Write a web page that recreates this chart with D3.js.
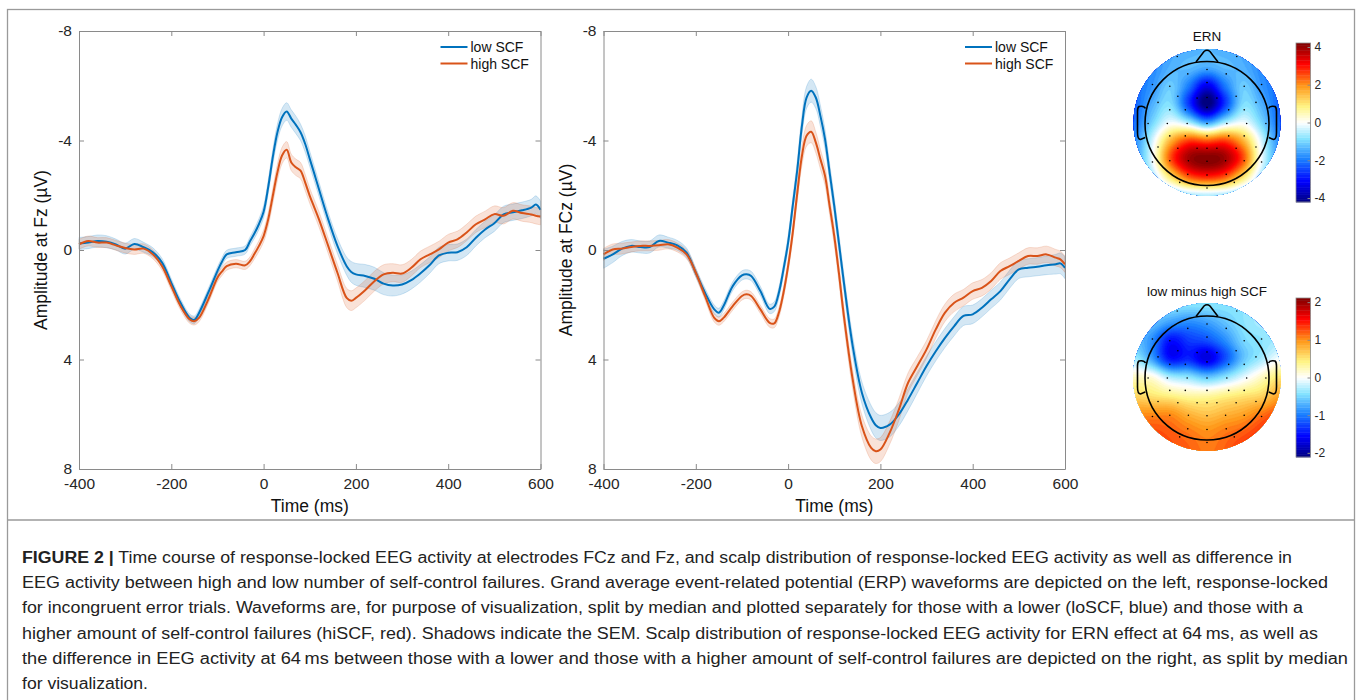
<!DOCTYPE html>
<html>
<head>
<meta charset="utf-8">
<script src="https://cdn.jsdelivr.net/npm/d3@7"></script>
<style>
  body { margin:0; background:#fff; }
  svg { display:block; font-family:"Liberation Sans", Arial, Helvetica, sans-serif; }
</style>
</head>
<body>
<div id="fig"></div>
<script>
// ---- data ----
var times = [-400,-380,-360,-340,-320,-300,-280,-260,-240,-220,-200,-180,-160,-150,-140,-120,-100,-90,-80,-60,-40,-30,-20,-10,0,10,20,30,40,50,60,70,80,90,100,110,120,140,160,180,190,200,220,240,260,280,300,320,340,360,380,400,420,440,460,480,500,520,540,560,580,590,600];

// Fz (left panel)
var fzLow = [-0.24,-0.27,-0.33,-0.3,-0.2,-0.05,-0.22,-0.1,0.08,0.46,1.2,1.93,2.48,2.55,2.3,1.56,0.77,0.42,0.16,0.08,0.0,-0.3,-0.6,-0.95,-1.4,-2.3,-3.4,-4.3,-4.85,-5.06,-4.8,-4.57,-4.3,-3.88,-3.33,-2.78,-2.22,-1.12,-0.15,0.59,0.8,0.89,0.95,1.05,1.23,1.3,1.26,1.1,0.85,0.55,0.2,0.1,0.08,-0.1,-0.45,-0.75,-0.98,-1.3,-1.38,-1.45,-1.55,-1.66,-1.47];
var fzHigh = [-0.21,-0.33,-0.27,-0.27,-0.17,-0.07,-0.02,-0.05,0.16,0.59,1.32,2.05,2.54,2.6,2.48,1.81,1.01,0.78,0.59,0.5,0.56,0.42,0.15,-0.15,-0.51,-1.12,-1.98,-2.84,-3.45,-3.66,-3.2,-3.02,-2.9,-2.47,-1.98,-1.55,-1.12,-0.15,0.83,1.75,1.85,1.75,1.47,1.14,0.89,0.83,0.86,0.65,0.34,0.16,-0.02,-0.27,-0.39,-0.64,-0.94,-1.12,-1.31,-1.25,-1.43,-1.35,-1.3,-1.25,-1.22];
var fzLowSem = [0.22,0.22,0.22,0.22,0.2,0.2,0.2,0.18,0.16,0.15,0.15,0.14,0.14,0.14,0.14,0.15,0.15,0.15,0.15,0.15,0.15,0.16,0.18,0.2,0.22,0.25,0.28,0.3,0.32,0.32,0.32,0.32,0.3,0.3,0.28,0.27,0.26,0.25,0.28,0.33,0.38,0.4,0.42,0.42,0.4,0.38,0.35,0.33,0.32,0.3,0.3,0.3,0.3,0.3,0.3,0.3,0.3,0.3,0.3,0.3,0.3,0.32,0.32];
var fzHighSem = [0.18,0.18,0.18,0.18,0.18,0.18,0.18,0.17,0.16,0.15,0.15,0.14,0.14,0.14,0.14,0.15,0.15,0.15,0.15,0.15,0.15,0.16,0.18,0.2,0.22,0.25,0.28,0.3,0.3,0.3,0.3,0.3,0.3,0.3,0.28,0.28,0.28,0.28,0.3,0.35,0.36,0.36,0.36,0.36,0.35,0.33,0.32,0.3,0.3,0.3,0.3,0.3,0.3,0.3,0.3,0.3,0.3,0.3,0.3,0.3,0.3,0.3,0.3];

// FCz (right panel)
var fczLow = [0.32,0.16,-0.05,-0.15,-0.11,-0.11,-0.33,-0.27,-0.17,0.1,0.83,1.56,2.17,2.29,2.05,1.32,0.93,0.89,0.95,1.5,2.15,2.07,1.56,0.71,-0.27,-1.61,-2.95,-4.54,-5.57,-5.82,-5.57,-4.9,-4.05,-2.83,-1.61,-0.27,1.07,3.51,5.22,6.13,6.4,6.5,6.38,6.01,5.46,4.85,4.24,3.7,3.21,2.78,2.41,2.35,2.11,1.8,1.5,1.07,0.71,0.65,0.61,0.56,0.52,0.49,0.65];
var fczHigh = [0.16,-0.02,-0.05,-0.11,-0.15,-0.15,-0.17,-0.21,-0.09,0.16,0.83,1.68,2.48,2.6,2.48,2.05,1.68,1.62,1.68,2.17,2.66,2.68,2.29,1.56,0.59,-0.63,-2.1,-3.44,-4.17,-4.32,-3.93,-3.32,-2.71,-1.61,-0.51,0.83,2.29,4.73,6.44,7.23,7.35,7.29,6.68,5.83,4.85,4.24,3.63,2.9,2.29,1.93,1.74,1.5,1.38,1.13,0.77,0.59,0.4,0.22,0.22,0.16,0.28,0.34,0.52];
var fczLowSem = [0.35,0.3,0.26,0.23,0.22,0.22,0.22,0.2,0.18,0.17,0.16,0.16,0.16,0.16,0.16,0.16,0.17,0.17,0.17,0.17,0.17,0.18,0.2,0.22,0.25,0.28,0.32,0.36,0.4,0.42,0.4,0.38,0.35,0.33,0.32,0.32,0.32,0.35,0.4,0.45,0.46,0.46,0.45,0.42,0.4,0.38,0.36,0.35,0.35,0.35,0.35,0.34,0.33,0.33,0.33,0.33,0.33,0.33,0.33,0.34,0.36,0.38,0.4];
var fczHighSem = [0.22,0.2,0.2,0.18,0.18,0.18,0.18,0.17,0.16,0.16,0.15,0.15,0.15,0.15,0.15,0.15,0.15,0.15,0.15,0.15,0.16,0.16,0.18,0.2,0.22,0.26,0.3,0.35,0.38,0.4,0.38,0.36,0.34,0.32,0.32,0.32,0.33,0.35,0.4,0.44,0.45,0.44,0.42,0.4,0.36,0.34,0.32,0.32,0.32,0.32,0.3,0.3,0.3,0.3,0.3,0.3,0.3,0.3,0.3,0.3,0.3,0.3,0.3];

var xTicks = [-400,-200,0,200,400,600];
var yTicks = [-8,-4,0,4,8];
var seriesNames = ["low SCF","high SCF"];

// scalp maps: 9x9 grid over the disc (rows top->bottom, cols left->right)
var ernGrid = [
  [-1.6,-1.6,-1.5,-1.4,-1.3,-1.4,-1.5,-1.6,-1.6],
  [-1.9,-1.8,-1.4,-1.3,-1.5,-1.3,-1.4,-1.8,-1.9],
  [-2.1,-1.7,-1.1,-2.0,-3.3,-2.0,-1.1,-1.7,-2.1],
  [-2.2,-1.4,-0.9,-2.6,-4.3,-2.6,-0.9,-1.4,-2.2],
  [-2.1,-1.0,-0.1,-0.6,-1.6,-0.6,-0.1,-1.0,-2.1],
  [-1.8,-0.3,1.6,2.6,2.4,2.6,1.6,-0.3,-1.8],
  [-1.6,-0.1,2.5,3.9,4.2,3.9,2.5,-0.1,-1.6],
  [-1.3,-0.6,1.0,2.4,2.8,2.4,1.0,-0.6,-1.3],
  [-1.1,-1.1,-1.0,-0.6,-0.5,-0.6,-1.0,-1.1,-1.1]
];
var diffGrid = [
  [-0.5,-0.5,-0.4,-0.4,-0.4,-0.4,-0.4,-0.4,-0.4],
  [-0.6,-0.6,-0.8,-0.9,-0.8,-0.6,-0.4,-0.3,-0.3],
  [-0.6,-0.9,-1.5,-1.3,-1.2,-0.9,-0.5,-0.4,-0.3],
  [-0.3,-0.8,-1.5,-1.4,-1.7,-1.2,-0.6,-0.3,0.0],
  [0.2,0.1,-0.3,-0.4,-0.6,-0.4,-0.1,0.2,0.5],
  [0.6,0.5,0.4,0.3,0.3,0.4,0.5,0.6,0.9],
  [1.0,1.0,1.0,0.8,0.7,0.8,0.9,1.1,1.3],
  [1.3,1.3,1.2,1.1,1.0,1.1,1.2,1.4,1.7],
  [1.5,1.5,1.3,1.2,1.1,1.2,1.4,1.6,1.8]
];
var ernTicks = [4,2,0,-2,-4];
var diffTicks = [2,1,0,-1,-2];

// electrode positions in head radius units
var electrodes = [
  [-0.48,-1.08],[0.48,-1.08],
  [-0.31,-0.8],[0,-0.87],[0.31,-0.8],
  [-0.88,-0.63],[-0.6,-0.6],[0,-0.66],[0.6,-0.6],[0.88,-0.63],
  [-0.79,-0.34],[-0.47,-0.44],[-0.16,-0.41],[0,-0.42],[0.16,-0.41],[0.47,-0.44],[0.79,-0.34],
  [-0.6,-0.22],[-0.35,-0.22],[0,-0.26],[0.35,-0.22],[0.6,-0.22],
  [-0.95,0],[-0.64,0],[-0.32,0],[0,0],[0.32,0],[0.64,0],[0.95,0],
  [-0.6,0.2],[-0.35,0.2],[0,0.2],[0.35,0.2],[0.6,0.2],
  [-0.79,0.38],[-0.47,0.4],[-0.16,0.4],[0,0.4],[0.16,0.4],[0.47,0.4],[0.79,0.38],
  [-0.88,0.62],[-0.6,0.6],[-0.3,0.6],[0,0.61],[0.3,0.6],[0.6,0.6],[0.88,0.62],
  [-0.31,0.82],[0,0.83],[0.31,0.82],
  [-0.44,0.95],[0,1.04],[0.44,0.95]
];

var captionBold = "FIGURE 2 |";
var captionLines = [
  " Time course of response-locked EEG activity at electrodes FCz and Fz, and scalp distribution of response-locked EEG activity as well as difference in",
  "EEG activity between high and low number of self-control failures. Grand average event-related potential (ERP) waveforms are depicted on the left, response-locked",
  "for incongruent error trials. Waveforms are, for purpose of visualization, split by median and plotted separately for those with a lower (loSCF, blue) and those with a",
  "higher amount of self-control failures (hiSCF, red). Shadows indicate the SEM. Scalp distribution of response-locked EEG activity for ERN effect at 64\u2009ms, as well as",
  "the difference in EEG activity at 64\u2009ms between those with a lower and those with a higher amount of self-control failures are depicted on the right, as split by median",
  "for visualization."
];
var captionEnds = [1292,1328,1303,1318,1348,148];

// ---- drawing ----
var W = 1358, H = 700;
var blue = "#0072BD", orange = "#D95319", axisGray = "#8a8a8a", textCol = "#262626";

// plain hyphen minus like the original tick labels
var numFmt = function(d){ return String(d); };

var svg = d3.select("#fig").append("svg")
  .attr("width", W)
  .attr("height", H);

// outer frame + divider
svg.append("rect")
  .attr("x", 7.5).attr("y", 9.5)
  .attr("width", 1347).attr("height", 720)
  .attr("fill", "none").attr("stroke", "#9a9a9a").attr("stroke-width", 1.3);
svg.append("line")
  .attr("x1", 7.5).attr("x2", 1354.5).attr("y1", 520).attr("y2", 520)
  .attr("stroke", "#9a9a9a").attr("stroke-width", 1.3);

function drawErp(x0, x1, low, lowSem, high, highSem, ylabel){
  var y0 = 31, y1 = 469,
      w = x1 - x0, h = y1 - y0;

  var g = svg.append("g")
    .attr("transform", "translate(" + x0 + "," + y0 + ")");

  var x = d3.scaleLinear().domain([-400,600]).range([0,w]);
  var y = d3.scaleLinear().domain([-8,8]).range([0,h]);

  var rows = times.map(function(t,i){
    return {t:t, low:low[i], lowSem:lowSem[i], high:high[i], highSem:highSem[i]};
  });

  var curve = d3.curveCatmullRom.alpha(0.5);

  function band(key, semKey, col){
    var area = d3.area()
      .x(function(d){ return x(d.t); })
      .y0(function(d){ return y(d[key] - d[semKey]); })
      .y1(function(d){ return y(d[key] + d[semKey]); })
      .curve(curve);
    g.append("path")
      .datum(rows)
      .attr("d", area)
      .attr("fill", col)
      .attr("fill-opacity", 0.17)
      .attr("stroke", col)
      .attr("stroke-opacity", 0.22)
      .attr("stroke-width", 0.8);
  }
  band("low", "lowSem", blue);
  band("high", "highSem", orange);

  function trace(key, col){
    var line = d3.line()
      .x(function(d){ return x(d.t); })
      .y(function(d){ return y(d[key]); })
      .curve(curve);
    g.append("path")
      .datum(rows)
      .attr("d", line)
      .attr("fill", "none")
      .attr("stroke", col)
      .attr("stroke-width", 2);
  }
  trace("low", blue);
  trace("high", orange);

  // axes, ticks pointing inward on all four sides
  var axB = g.append("g").attr("transform", "translate(0," + h + ")")
    .call(d3.axisBottom(x).tickValues(xTicks).tickSizeInner(-5).tickSizeOuter(0).tickPadding(9).tickFormat(numFmt));
  var axT = g.append("g")
    .call(d3.axisTop(x).tickValues(xTicks).tickSizeInner(-5).tickSizeOuter(0).tickFormat(""));
  var axL = g.append("g")
    .call(d3.axisLeft(y).tickValues(yTicks).tickSizeInner(-5).tickSizeOuter(0).tickPadding(7).tickFormat(numFmt));
  var axR = g.append("g").attr("transform", "translate(" + w + ",0)")
    .call(d3.axisRight(y).tickValues(yTicks).tickSizeInner(-5).tickSizeOuter(0).tickFormat(""));

  [axB, axT, axL, axR].forEach(function(a){
    a.select(".domain").attr("stroke", axisGray).attr("stroke-width", 1);
    a.selectAll(".tick line").attr("stroke", axisGray);
    a.selectAll(".tick text")
      .attr("fill", textCol)
      .attr("font-size", "15.5px")
      .attr("font-family", "Liberation Sans, Arial, sans-serif");
  });

  g.append("text")
    .attr("x", w/2).attr("y", h + 43)
    .attr("text-anchor", "middle")
    .attr("font-size", "17.5px")
    .attr("fill", "#111")
    .text("Time (ms)");

  g.append("text")
    .attr("transform", "translate(" + (-32) + "," + (h/2) + ") rotate(-90)")
    .attr("text-anchor", "middle")
    .attr("font-size", "17.5px")
    .attr("fill", "#111")
    .text(ylabel);

  // legend
  var leg = g.selectAll(".legend")
    .data(seriesNames)
    .enter()
    .append("g")
    .attr("class", "legend")
    .attr("transform", function(d,i){ return "translate(" + (w - 100) + "," + (16 + i*16.5) + ")"; });
  leg.append("line")
    .attr("x1", 0).attr("x2", 27)
    .attr("stroke", function(d,i){ return i == 0 ? blue : orange; })
    .attr("stroke-width", 2);
  leg.append("text")
    .attr("x", 30).attr("y", 5)
    .attr("font-size", "14px")
    .attr("fill", "#111")
    .text(function(d){ return d; });
}

drawErp(79, 540.5, fzLow, fzLowSem, fzHigh, fzHighSem, "Amplitude at Fz (\u00b5V)");
drawErp(603.5, 1065, fczLow, fczLowSem, fczHigh, fczHighSem, "Amplitude at FCz (\u00b5V)");

// ---- scalp maps ----
var cmap = d3.scaleLinear()
  .domain([0,0.13,0.27,0.4,0.5,0.6,0.73,0.87,1])
  .range(["#00007f","#0000ff","#1a80ff","#86e4ff","#ffffff","#fff586","#ff9a1a","#ff0000","#7f0000"])
  .clamp(true);

function cubic(p0,p1,p2,p3,t){
  return p1 + 0.5*t*(p2 - p0 + t*(2*p0 - 5*p1 + 4*p2 - p3 + t*(3*(p1 - p2) + p3 - p0)));
}

function sampleGrid(G, gx, gy){
  var n = G.length;
  var ix = Math.floor(gx), iy = Math.floor(gy);
  var fx = gx - ix, fy = gy - iy;
  function cl(k){ return Math.max(0, Math.min(n-1, k)); }
  var col = [];
  for (var k = -1; k <= 2; k++){
    var r = G[cl(iy+k)];
    col.push(cubic(r[cl(ix-1)], r[cl(ix)], r[cl(ix+1)], r[cl(ix+2)], fx));
  }
  return cubic(col[0], col[1], col[2], col[3], fy);
}

function drawTopo(o){
  var N = 90, n = o.grid.length;
  var values = new Array(N*N);
  for (var j = 0; j < N; j++){
    for (var i = 0; i < N; i++){
      values[i + j*N] = sampleGrid(o.grid, i/(N-1)*(n-1), j/(N-1)*(n-1));
    }
  }

  var L = o.lim, steps = 64;
  var thresholds = d3.range(steps).map(function(k){ return -L + k*(2*L/steps); });
  var contours = d3.contours().size([N,N]).thresholds(thresholds)(values);

  var colorOf = function(v){ return cmap((v + L)/(2*L)); };

  var clipId = "clip" + o.id;
  svg.append("clipPath").attr("id", clipId)
    .append("circle").attr("cx", o.cx).attr("cy", o.cy).attr("r", o.R);

  var proj = d3.geoIdentity()
    .scale(2*o.R/N)
    .translate([o.cx - o.R, o.cy - o.R]);
  var path = d3.geoPath(proj);

  var mg = svg.append("g").attr("clip-path", "url(#" + clipId + ")");
  mg.append("circle")
    .attr("cx", o.cx).attr("cy", o.cy).attr("r", o.R)
    .attr("fill", colorOf(-L));
  mg.selectAll("path")
    .data(contours)
    .enter()
    .append("path")
    .attr("d", path)
    .attr("fill", function(d){ return colorOf(d.value + L/steps); })
    .attr("stroke", function(d){ return colorOf(d.value + L/steps); })
    .attr("stroke-width", 0.3);

  // head outline, nose, ears
  var hr = o.headR, cx = o.cx, cy = o.cy + 1;
  var hg = svg.append("g")
    .attr("fill", "none").attr("stroke", "#000").attr("stroke-width", 1.6);
  hg.append("circle").attr("cx", cx).attr("cy", cy).attr("r", hr);
  hg.append("path")
    .attr("d", "M" + (cx-11) + "," + (cy-hr+0.5) + " L" + (cx-3) + "," + (cy-hr-10) +
      " Q" + cx + "," + (cy-hr-12.5) + " " + (cx+3) + "," + (cy-hr-10) +
      " L" + (cx+11) + "," + (cy-hr+0.5));
  [-1,1].forEach(function(s){
    var xo = cx + s*hr, xe = cx + s*(hr+7.5);
    hg.append("path")
      .attr("d", "M" + (xo - s*0.5) + "," + (cy-15) +
        " Q" + (xo + s*1) + "," + (cy-18) + " " + (xe - s*1.5) + "," + (cy-17) +
        " Q" + xe + "," + (cy-16) + " " + xe + "," + (cy-12) +
        " L" + xe + "," + (cy+9) +
        " Q" + xe + "," + (cy+16) + " " + (xe - s*3) + "," + (cy+16) +
        " L" + (xo - s*0.2) + "," + (cy+14));
  });

  svg.append("g").selectAll("circle")
    .data(electrodes)
    .enter()
    .append("circle")
    .attr("cx", function(d){ return cx + d[0]*hr; })
    .attr("cy", function(d){ return cy + d[1]*hr; })
    .attr("r", 0.8)
    .attr("fill", "#000");

  svg.append("text")
    .attr("x", o.cx).attr("y", o.titleY)
    .attr("text-anchor", "middle")
    .attr("font-size", "13.5px")
    .attr("fill", "#111")
    .text(o.title);

  // colorbar
  var cbX = 1296, cbW = 14.5;
  var cy0 = o.cbY0, cy1 = o.cbY1;
  var cbScale = d3.scaleLinear().domain([-L, L]).range([cy1, cy0]);
  var cells = d3.range(steps);
  var cellH = (cy1 - cy0)/steps;
  svg.append("g").selectAll("rect")
    .data(cells)
    .enter()
    .append("rect")
    .attr("x", cbX)
    .attr("y", function(k){ return cy1 - (k+1)*cellH; })
    .attr("width", cbW)
    .attr("height", cellH + 0.4)
    .attr("fill", function(k){ return cmap((k + 0.5)/steps); });
  svg.append("rect")
    .attr("x", cbX).attr("y", cy0)
    .attr("width", cbW).attr("height", cy1 - cy0)
    .attr("fill", "none").attr("stroke", "#8a8a8a").attr("stroke-width", 0.8);
  var ax = svg.append("g").attr("transform", "translate(" + (cbX + cbW) + ",0)")
    .call(d3.axisRight(cbScale).tickValues(o.ticks).tickSizeInner(-3).tickSizeOuter(0).tickPadding(4)
      .tickFormat(numFmt));
  ax.select(".domain").remove();
  ax.selectAll(".tick line").attr("stroke", "#8a8a8a");
  ax.selectAll(".tick text")
    .attr("fill", textCol)
    .attr("font-size", "12px")
    .attr("font-family", "Liberation Sans, Arial, sans-serif");
}

drawTopo({id:1, cx:1207, cy:122.5, R:73.5, headR:62, grid:ernGrid, lim:4.21,
  title:"ERN", titleY:41, cbY0:43, cbY1:202, ticks:ernTicks});
drawTopo({id:2, cx:1207, cy:377, R:74, headR:62, grid:diffGrid, lim:2.11,
  title:"low minus high SCF", titleY:296, cbY0:298, cbY1:457, ticks:diffTicks});

// ---- caption ----
var cap = svg.append("g")
  .attr("font-family", "\"Liberation Sans Narrow\", \"Arial Narrow\", \"Liberation Sans\", sans-serif")
  .attr("font-size", "16px")
  .attr("fill", "#222");

cap.selectAll("text")
  .data(captionLines)
  .enter()
  .append("text")
  .attr("x", 22)
  .attr("y", function(d,i){ return 563 + i*25.2; })
  .attr("textLength", function(d,i){ return captionEnds[i] - 22; })
  .attr("lengthAdjust", "spacingAndGlyphs")
  .each(function(d,i){
    var t = d3.select(this);
    if (i == 0){
      t.append("tspan").attr("font-weight", "bold").text(captionBold);
    }
    t.append("tspan").text(d);
  });
</script>
</body>
</html>
